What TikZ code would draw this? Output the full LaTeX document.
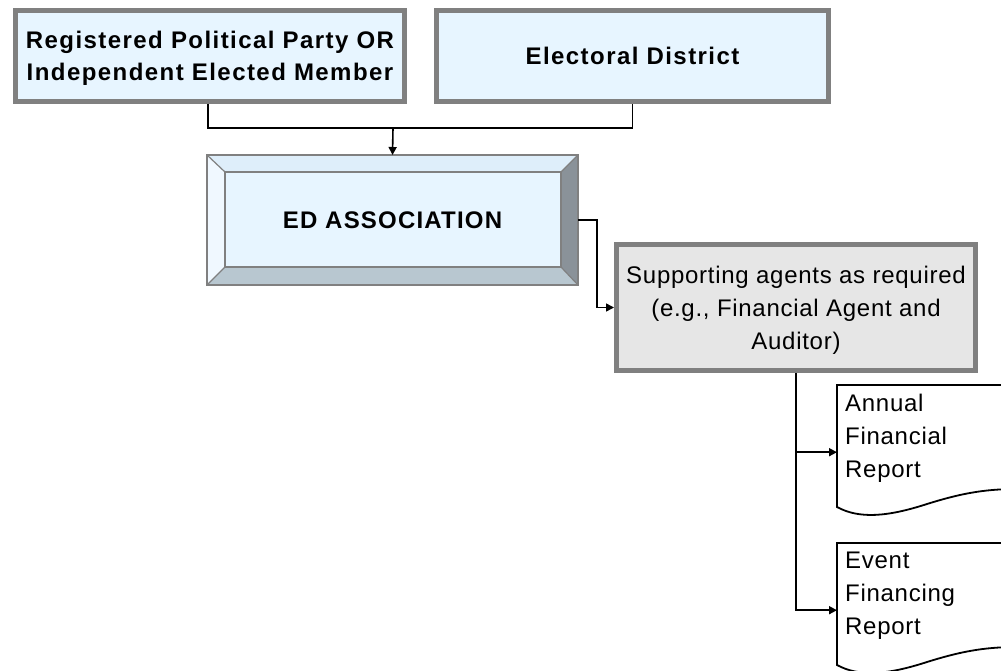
\documentclass[tikz,border=0pt]{standalone}
\usepackage{fontspec}
\setmainfont{Liberation Sans}
\usetikzlibrary{arrows.meta,calc}

\definecolor{boxblue}{RGB}{231,245,255}
\definecolor{rimgray}{RGB}{128,128,128}
\definecolor{agentgray}{RGB}{230,230,230}
\definecolor{bevtop}{RGB}{222,238,250}
\definecolor{bevleft}{RGB}{240,248,255}
\definecolor{bevright}{RGB}{138,146,153}
\definecolor{bevbottom}{RGB}{184,199,208}

\tikzset{
  topbox/.style={draw=rimgray, line width=5pt, fill=boxblue, inner sep=0pt},
  toptext/.style={inner sep=0pt, align=center, yshift=-2pt,
    font=\fontsize{24}{32}\selectfont\bfseries\addfontfeatures{LetterSpace=6}},
  edbox/.style={draw=rimgray, line width=2.5pt, fill=boxblue, inner sep=0pt,
    font=\fontsize{24}{30}\selectfont\bfseries\addfontfeatures{LetterSpace=5}},
  agentbox/.style={draw=rimgray, line width=5pt, fill=agentgray, inner sep=0pt},
  agenttext/.style={inner sep=0pt, align=center, yshift=-3pt,
    font=\fontsize{24}{33}\selectfont\addfontfeatures{LetterSpace=3}},
  docframe/.style={inner sep=0pt, minimum width=180pt, minimum height=134pt},
  doctext/.style={inner sep=0pt, align=left, anchor=north west,
    font=\fontsize{24}{33}\selectfont\addfontfeatures{LetterSpace=3}},
  docline/.style={draw=black, line width=1.8pt, fill=white},
  conn/.style={draw=black, line width=1.6pt},
  arrow/.style={conn, -{Triangle[length=8pt,width=8pt]}},
}

\begin{document}
\begin{tikzpicture}[x=1pt,y=-1pt]
\useasboundingbox (0,0) rectangle (1001,671);
\clip (0,0) rectangle (1001,671);

% top row
\node[topbox, minimum width=389pt, minimum height=91pt,
  label={[toptext]center:Registered Political Party OR\\Independent Elected Member}]
  (party) at (210,56) {};
\node[topbox, minimum width=392pt, minimum height=91pt,
  label={[toptext, yshift=2pt]center:Electoral District}]
  (district) at (632.5,56) {};

% bevelled association box
\node[edbox, minimum width=368.5pt, minimum height=127.5pt] (ed) at (392.5,220)
  {ED ASSOCIATION};
\coordinate (onw) at (ed.north west);
\coordinate (one) at (ed.north east);
\coordinate (osw) at (ed.south west);
\coordinate (ose) at (ed.south east);
\coordinate (inw) at ($(ed.north west)+(18,17)$);
\coordinate (ine) at ($(ed.north east)+(-17,17)$);
\coordinate (isw) at ($(ed.south west)+(18,-18)$);
\coordinate (ise) at ($(ed.south east)+(-17,-18)$);
\fill[bevtop] (onw) -- (one) -- (ine) -- (inw) -- cycle;
\fill[bevleft] (onw) -- (inw) -- (isw) -- (osw) -- cycle;
\fill[bevright] (one) -- (ose) -- (ise) -- (ine) -- cycle;
\fill[bevbottom] (osw) -- (isw) -- (ise) -- (ose) -- cycle;
\draw[rimgray, line width=1.2pt] (onw) -- (inw) (one) -- (ine) (osw) -- (isw) (ose) -- (ise);
\draw[rimgray, line width=2.5pt] (inw) rectangle (ise);
\draw[rimgray, line width=2.5pt] (onw) rectangle (ose);

% supporting agents
\node[agentbox, minimum width=359pt, minimum height=126pt,
  label={[agenttext]center:Supporting agents as required\\(e.g., Financial Agent and\\Auditor)}]
  (agents) at (796,307.5) {};

% reports
\node[docframe, anchor=north west] (annual) at (837,385) {};
\node[docframe, anchor=north west] (event) at (837,543) {};
\foreach \d in {annual,event}{
  \begin{scope}[shift={(\d.north west)}]
    \draw[docline] (180,0) -- (0,0) -- (0,122)
      .. controls (22,134) and (50,132) .. (90,119)
      .. controls (122,109) and (146,104) .. (180,104) -- cycle;
  \end{scope}
}
\node[doctext] (annual-text) at ($(annual.north west)+(8,9)$)
  {Annual\\Financial\\Report};
\node[doctext] (event-text) at ($(event.north west)+(8,9)$)
  {Event\\Financing\\Report};

% connectors
\coordinate (bus) at (393,128);
\coordinate (dstub) at (district.south);
\draw[conn] ([xshift=-2pt]party.south) |- (bus) -| (dstub);
\draw[arrow] (bus) -- (ed.north);
\draw[arrow] (ed.east) -- ++(19,0) |- (agents.west);
\draw[arrow] (agents.south) |- (annual.west);
\draw[arrow] (agents.south) |- (event.west);
\end{tikzpicture}
\end{document}
